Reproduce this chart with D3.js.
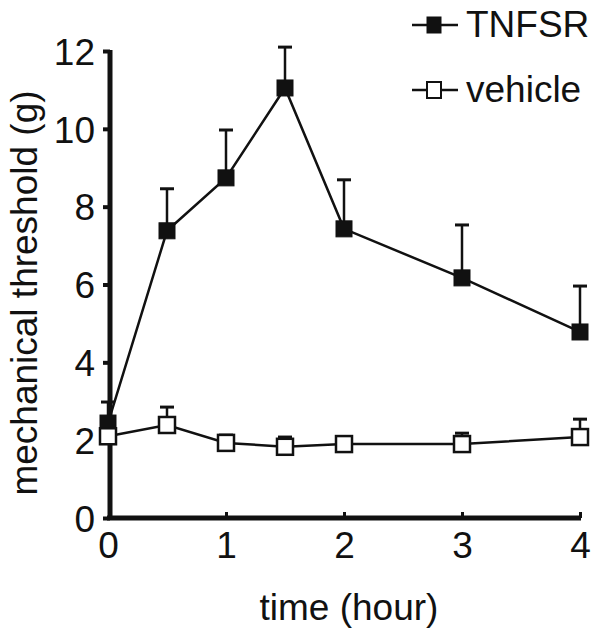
<!DOCTYPE html>
<html>
<head>
<meta charset="utf-8">
<script src="https://cdn.jsdelivr.net/npm/d3@7"></script>
<style>
  body { margin: 0; background: #fff; }
  text { font-family: "Liberation Sans", Arial, sans-serif; fill: #111; }
</style>
</head>
<body>
<div id="chart"></div>
<script>
// time points (hour)
var times = [0, 0.5, 1, 1.5, 2, 3, 4];
// mean mechanical threshold (g), upward error bars
var tnfsrMean = [2.44, 7.38, 8.74, 11.05, 7.43, 6.17, 4.78];
var tnfsrErr  = [0.54, 1.08, 1.23, 1.05, 1.26, 1.36, 1.18];
var vehicleMean = [2.1, 2.39, 1.93, 1.83, 1.9, 1.9, 2.08];
var vehicleErr  = [0.0, 0.46, 0.2, 0.25, 0.18, 0.28, 0.46];
var xTicks = [0, 1, 2, 3, 4];
var yTicks = [0, 2, 4, 6, 8, 10, 12];

var width = 604, height = 630;
var fontSize = "37px";
var svg = d3.select("#chart").append("svg")
  .attr("width", width)
  .attr("height", height);

var x = d3.scaleLinear().domain([0, 4]).range([108, 580]);
var y = d3.scaleLinear().domain([0, 12]).range([518, 51]);

// Y axis
var yAxis = svg.append("g")
  .attr("transform", "translate(110,0)")
  .call(d3.axisLeft(y).tickValues(yTicks).tickFormat(d3.format("d"))
    .tickSize(7).tickSizeOuter(0).tickPadding(8));
yAxis.select(".domain").attr("stroke", "#111").attr("stroke-width", 5)
  .attr("d", "M0," + (y(12) - 1) + "V" + (y(0) + 2));
yAxis.selectAll(".tick line").attr("stroke", "#111").attr("stroke-width", 4);
yAxis.selectAll(".tick text").style("font-size", fontSize).attr("dy", "0.36em");

// X axis
var xAxis = svg.append("g")
  .attr("transform", "translate(0,518)")
  .call(d3.axisBottom(x).tickValues(xTicks).tickFormat(d3.format("d"))
    .tickSize(0).tickSizeOuter(0).tickPadding(14));
xAxis.select(".domain").attr("stroke", "#111").attr("stroke-width", 5)
  .attr("d", "M107,0H581");
xAxis.selectAll(".tick line").attr("stroke", "#111").attr("stroke-width", 3)
  .attr("y2", -6);
xAxis.selectAll(".tick").filter(function (d) { return d === 0; }).select("line").remove();
xAxis.selectAll(".tick text").style("font-size", fontSize).attr("dy", "0.71em");

// axis titles
svg.append("text")
  .attr("x", 349)
  .attr("y", 620)
  .style("text-anchor", "middle")
  .style("font-size", fontSize)
  .text("time (hour)");

svg.append("text")
  .attr("transform", "translate(37,293) rotate(-90)")
  .style("text-anchor", "middle")
  .style("font-size", fontSize)
  .text("mechanical threshold (g)");

function drawSeries(means, errs, fill) {
  var pts = times.map(function (t, i) { return { t: t, m: means[i], e: errs[i] }; });
  var line = d3.line()
    .x(function (d) { return x(d.t); })
    .y(function (d) { return y(d.m); });
  var g = svg.append("g");
  g.append("path")
    .datum(pts)
    .attr("d", line)
    .attr("fill", "none")
    .attr("stroke", "#111")
    .attr("stroke-width", 2.5);
  var eb = g.selectAll(".err").data(pts.filter(function (d) { return d.e > 0; }))
    .enter().append("g");
  eb.append("line")
    .attr("x1", function (d) { return x(d.t); })
    .attr("x2", function (d) { return x(d.t); })
    .attr("y1", function (d) { return y(d.m); })
    .attr("y2", function (d) { return y(d.m + d.e); })
    .attr("stroke", "#111").attr("stroke-width", 2.5);
  eb.append("line")
    .attr("x1", function (d) { return x(d.t) - 7; })
    .attr("x2", function (d) { return x(d.t) + 7; })
    .attr("y1", function (d) { return y(d.m + d.e); })
    .attr("y2", function (d) { return y(d.m + d.e); })
    .attr("stroke", "#111").attr("stroke-width", 3);
  g.selectAll("rect").data(pts).enter().append("rect")
    .attr("x", function (d) { return x(d.t) - 8; })
    .attr("y", function (d) { return y(d.m) - 8; })
    .attr("width", 16)
    .attr("height", 16)
    .attr("fill", fill)
    .attr("stroke", "#111")
    .attr("stroke-width", fill === "#fff" ? 2.5 : 1);
}

drawSeries(tnfsrMean, tnfsrErr, "#111");
drawSeries(vehicleMean, vehicleErr, "#fff");

// legend
var legendItems = [
  { label: "TNFSR", fill: "#111", y: 25 },
  { label: "vehicle", fill: "#fff", y: 90 }
];
var lg = svg.selectAll(".legend").data(legendItems).enter().append("g");
lg.append("line")
  .attr("x1", 412).attr("x2", 458)
  .attr("y1", function (d) { return d.y; })
  .attr("y2", function (d) { return d.y; })
  .attr("stroke", "#111").attr("stroke-width", 2.5);
lg.append("rect")
  .attr("x", 427).attr("width", 14)
  .attr("y", function (d) { return d.y - 8; })
  .attr("height", 16)
  .attr("fill", function (d) { return d.fill; })
  .attr("stroke", "#111")
  .attr("stroke-width", function (d) { return d.fill === "#fff" ? 2 : 1; });
lg.append("text")
  .attr("x", 466)
  .attr("y", function (d) { return d.y + 12; })
  .style("font-size", fontSize)
  .text(function (d) { return d.label; });
</script>
</body>
</html>
